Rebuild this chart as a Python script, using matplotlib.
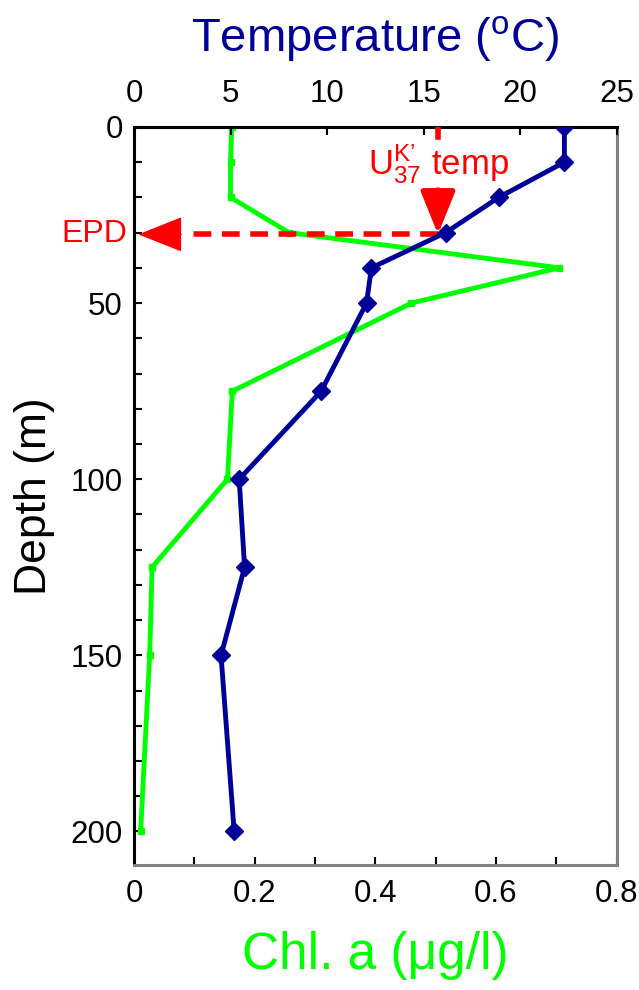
import matplotlib
matplotlib.use('Agg')
import matplotlib.pyplot as plt
from matplotlib.ticker import MultipleLocator, FuncFormatter

plt.rcParams['font.family'] = ['Liberation Sans', 'DejaVu Sans']
plt.rcParams['mathtext.fontset'] = 'custom'
plt.rcParams['mathtext.rm'] = 'Liberation Sans'
plt.rcParams['mathtext.it'] = 'Liberation Sans'
plt.rcParams['mathtext.default'] = 'regular'

# temperature profile (top axis)
depth_temp = [0, 10, 20, 30, 40, 50, 75, 100, 125, 150, 200]
temp = [22.3, 22.3, 18.9, 16.15, 12.3, 12.05, 9.7, 5.45, 5.73, 4.51, 5.19]

# chlorophyll a profile (bottom axis)
depth_chl = [0, 10, 20, 30, 40, 50, 75, 100, 125, 150, 200]
chl = [0.162, 0.160, 0.160, 0.257, 0.705, 0.46, 0.163, 0.155, 0.030, 0.026, 0.011]

epd = 30.5         # export production depth (m)
uk37_temp = 15.75  # UK'37 temperature (deg C)

navy = '#000099'
green = '#00ff00'
red = '#ff0000'
grey = '#808080'
fs_tick = 22.5

fig = plt.figure(figsize=(6.39, 9.9), dpi=100)
ax = fig.add_axes([0.2097, 0.1263, 0.7551, 0.7455])

ax.plot(chl, depth_chl, color=green, lw=3.5, marker='s', ms=5, zorder=2)
ax.set_xlim(0, 0.8)
ax.set_ylim(209.5, 0)

ax.xaxis.set_major_locator(MultipleLocator(0.2))
ax.xaxis.set_minor_locator(MultipleLocator(0.1))
ax.xaxis.set_major_formatter(FuncFormatter(lambda v, p: f'{v:g}'))
ax.yaxis.set_major_locator(MultipleLocator(50))
ax.yaxis.set_minor_locator(MultipleLocator(10))
ax.tick_params(axis='x', which='both', direction='in', length=6, width=1.5,
               top=False, labelsize=fs_tick, pad=10)
ax.tick_params(axis='y', which='both', direction='in', length=6, width=1.5,
               right=False, labelsize=fs_tick, pad=8)

for s in ['left', 'top']:
    ax.spines[s].set_color('black')
    ax.spines[s].set_linewidth(2.2)
for s in ['right', 'bottom']:
    ax.spines[s].set_color(grey)
    ax.spines[s].set_linewidth(2.2)

ax.set_xlabel('Chl. a (μg/l)', color=green, fontsize=37, labelpad=16)
ax.set_ylabel('Depth (m)', fontsize=32, labelpad=11)

ax2 = ax.twiny()
ax2.set_xlim(0, 25)
ax2.xaxis.set_major_locator(MultipleLocator(5))
ax2.tick_params(axis='x', direction='in', length=6, width=1.5,
                labelsize=fs_tick, pad=13)
for s in ax2.spines.values():
    s.set_visible(False)
ax2.set_xlabel('Temperature ($^{o}$C)', color=navy, fontsize=34, labelpad=20)

ax2.plot(temp, depth_temp, color=navy, lw=3.5, marker='D', ms=9, zorder=4)

# EPD dashed line with arrow to the depth axis
ax2.plot([uk37_temp, 3.0], [epd, epd], color=red, lw=4,
         ls=(0, (3.2, 1.9)), zorder=3)
ax2.annotate('', xy=(0.22, epd), xytext=(2.45, epd),
             arrowprops=dict(arrowstyle='-|>,head_length=2.9,head_width=1.15',
                             color=red, lw=1, mutation_scale=10,
                             shrinkA=0, shrinkB=0), zorder=3)
ax2.annotate('EPD', xy=(0, epd), xycoords=('axes fraction', 'data'),
             xytext=(-5, 0), textcoords='offset points',
             ha='right', va='center', color=red, fontsize=23)

# UK'37 temperature arrow
ax2.plot([uk37_temp, uk37_temp], [0, 3], color=red, lw=4, zorder=3)
ax2.annotate("U$^{K\u2019}_{37}$ temp", xy=(uk37_temp, epd),
             xytext=(uk37_temp, 10.5), ha='center', va='center',
             color=red, fontsize=25, zorder=3,
             arrowprops=dict(arrowstyle='-|>,head_length=2.6,head_width=1.05',
                             color=red, lw=4, mutation_scale=10,
                             shrinkA=1, shrinkB=0))

fig.savefig('out.png', dpi=100)
